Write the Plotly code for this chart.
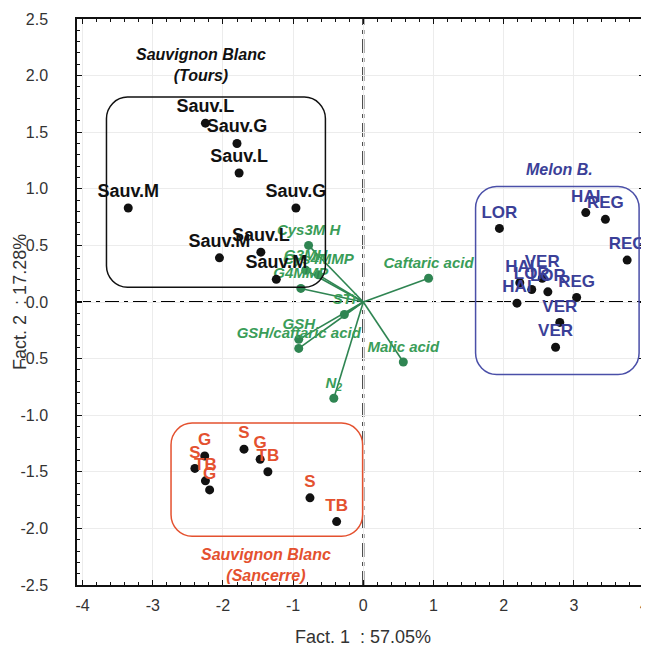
import plotly.graph_objects as go

# ---- data ----
tours_labels = ["Sauv.L", "Sauv.G", "Sauv.L", "Sauv.M", "Sauv.G", "Sauv.M", "Sauv.L", "Sauv.M"]
tours_x = [-2.25, -1.80, -1.77, -3.35, -0.96, -2.05, -1.46, -1.24]
tours_y = [1.58, 1.40, 1.14, 0.83, 0.83, 0.39, 0.44, 0.20]

melon_labels = ["LOR", "HAI", "REG", "REG", "HAI", "LOR", "VER", "LOR", "REG", "HAI", "VER", "VER"]
melon_x = [1.94, 3.17, 3.45, 3.76, 2.23, 2.40, 2.55, 2.63, 3.04, 2.19, 2.80, 2.74]
melon_y = [0.65, 0.79, 0.73, 0.37, 0.17, 0.11, 0.21, 0.09, 0.04, -0.01, -0.18, -0.40]

sanc_labels = ["G", "S", "TB", "G", "S", "G", "TB", "S", "TB"]
sanc_x = [-2.26, -2.40, -2.25, -2.19, -1.70, -1.47, -1.36, -0.76, -0.38]
sanc_y = [-1.36, -1.47, -1.58, -1.66, -1.30, -1.39, -1.50, -1.73, -1.94]

var_labels = ["Cys3M H", "G3MH", "Cys4MMP", "G4MMP", "STi", "GSH", "GSH/caftaric acid",
              "Caftaric acid", "Malic acid", "N<sub>2</sub>"]
var_x = [-0.78, -0.82, -0.64, -0.89, -0.27, -0.92, -0.92, 0.93, 0.57, -0.42]
var_y = [0.50, 0.28, 0.24, 0.12, -0.11, -0.33, -0.41, 0.21, -0.53, -0.85]

x_ticks = [-4, -3, -2, -1, 0, 1, 2, 3, 4]
y_ticks = [-2.5, -2.0, -1.5, -1.0, -0.5, 0.0, 0.5, 1.0, 1.5, 2.0, 2.5]

# ---- styles ----
BLACK = "#111111"
BLUE = "#3b3f98"
RED = "#e4512f"
GREEN_T = "#3a9d58"
GREEN_L = "#2f8552"
FONT = "Liberation Sans, Arial, sans-serif"

fig = go.Figure()

# vectors
for vx, vy in zip(var_x, var_y):
    fig.add_trace(go.Scatter(x=[0, vx], y=[0, vy], mode="lines",
                             line=dict(color=GREEN_L, width=1.6), hoverinfo="skip",
                             showlegend=False))
fig.add_trace(go.Scatter(x=var_x, y=var_y, mode="markers+text", text=var_labels,
                         textposition="top center",
                         marker=dict(color=GREEN_L, size=9),
                         textfont=dict(family=FONT, size=15, color=GREEN_T,
                                       weight="bold", style="italic"),
                         showlegend=False))

# groups
fig.add_trace(go.Scatter(x=tours_x, y=tours_y, mode="markers+text", text=tours_labels,
                         textposition="top center", marker=dict(color=BLACK, size=9),
                         textfont=dict(family=FONT, size=18, color=BLACK, weight="bold"),
                         showlegend=False))
fig.add_trace(go.Scatter(x=melon_x, y=melon_y, mode="markers+text", text=melon_labels,
                         textposition="top center", marker=dict(color=BLACK, size=9),
                         textfont=dict(family=FONT, size=17, color=BLUE, weight="bold"),
                         showlegend=False))
fig.add_trace(go.Scatter(x=sanc_x, y=sanc_y, mode="markers+text", text=sanc_labels,
                         textposition="top center", marker=dict(color=BLACK, size=9),
                         textfont=dict(family=FONT, size=17, color=RED, weight="bold"),
                         showlegend=False))


def rrect(x0, x1, y0, y1, rx, ry):
    k = 0.5523
    return (f"M {x0+rx},{y1} L {x1-rx},{y1} "
            f"C {x1-rx+k*rx},{y1} {x1},{y1-ry+k*ry} {x1},{y1-ry} "
            f"L {x1},{y0+ry} "
            f"C {x1},{y0+ry-k*ry} {x1-rx+k*rx},{y0} {x1-rx},{y0} "
            f"L {x0+rx},{y0} "
            f"C {x0+rx-k*rx},{y0} {x0},{y0+ry-k*ry} {x0},{y0+ry} "
            f"L {x0},{y1-ry} "
            f"C {x0},{y1-ry+k*ry} {x0+rx-k*rx},{y1} {x0+rx},{y1} Z")


rx, ry = 0.30, 0.19
shapes = [
    dict(type="line", xref="x", yref="paper", x0=0, x1=0, y0=0, y1=1,
         line=dict(color="#000000", width=2, dash="14px,5px,4px,5px"), layer="below"),
    dict(type="line", xref="paper", yref="y", x0=0, x1=1, y0=0, y1=0,
         line=dict(color="#000000", width=1.8, dash="14px,5px,4px,5px"), layer="below"),
    dict(type="path", xref="x", yref="y", path=rrect(-3.66, -0.54, 0.13, 1.81, rx, ry),
         line=dict(color=BLACK, width=1.5)),
    dict(type="path", xref="x", yref="y", path=rrect(1.60, 3.93, -0.64, 1.02, rx, ry),
         line=dict(color="#4a4fa8", width=1.5)),
    dict(type="path", xref="x", yref="y", path=rrect(-2.74, -0.01, -2.07, -1.07, rx, ry),
         line=dict(color=RED, width=1.5)),
]

annotations = [
    dict(x=-2.31, y=2.09, xref="x", yref="y", text="Sauvignon Blanc<br>(Tours)",
         showarrow=False, font=dict(family=FONT, size=16, color=BLACK, weight="bold",
                                    style="italic")),
    dict(x=2.79, y=1.17, xref="x", yref="y", text="Melon B.",
         showarrow=False, font=dict(family=FONT, size=16, color=BLUE, weight="bold",
                                    style="italic")),
    dict(x=-1.39, y=-2.32, xref="x", yref="y", text="Sauvignon Blanc<br>(Sancerre)",
         showarrow=False, font=dict(family=FONT, size=16, color=RED, weight="bold",
                                    style="italic")),
    dict(x=0.505, y=-0.0915, xref="paper", yref="paper", text="Fact. 1  : 57.05%",
         showarrow=False, xanchor="center", yanchor="middle",
         font=dict(family=FONT, size=18, color="#333333")),
    dict(x=-0.1007, y=0.5, xref="paper", yref="paper", text="Fact. 2  : 17.28%",
         showarrow=False, xanchor="center", yanchor="middle", textangle=-90,
         font=dict(family=FONT, size=18, color="#333333")),
    # last x tick label sits on the figure edge; drawn as annotation so it is not dropped
    dict(x=x_ticks[-1], y=-0.037, xref="x", yref="paper", text=str(x_ticks[-1]),
         showarrow=False, xanchor="center", yanchor="middle",
         font=dict(family=FONT, size=16, color="#333333")),
]

axis_common = dict(showline=True, linecolor=BLACK, linewidth=1.5, mirror="ticks",
                   ticks="inside", ticklen=5, tickcolor=BLACK, tickwidth=1,
                   showgrid=True, gridcolor="#ececec", gridwidth=1, zeroline=False,
                   ticklabeloverflow="allow",
                   tickfont=dict(family=FONT, size=16, color="#333333"))

# page body has an 8px default margin: compensate in size and margins
fig.update_layout(
    width=641, height=642,
    paper_bgcolor="white", plot_bgcolor="white",
    margin=dict(l=69, r=3, t=9, b=65),
    shapes=shapes, annotations=annotations,
    xaxis=dict(range=[-4.08, 4.0], tickvals=x_ticks,
               ticktext=[str(v) for v in x_ticks[:-1]] + [""],
               ticklabelstandoff=5,
               minor=dict(ticks="inside", ticklen=3, dtick=0.2, tickcolor=BLACK, showgrid=False),
               **axis_common),
    yaxis=dict(range=[-2.5, 2.5], tickvals=y_ticks, ticktext=[f"{v:.1f}" for v in y_ticks],
               ticklabelstandoff=24,
               minor=dict(ticks="inside", ticklen=3, dtick=0.1, tickcolor=BLACK, showgrid=False),
               **axis_common),
)

fig.write_html("out.html")
